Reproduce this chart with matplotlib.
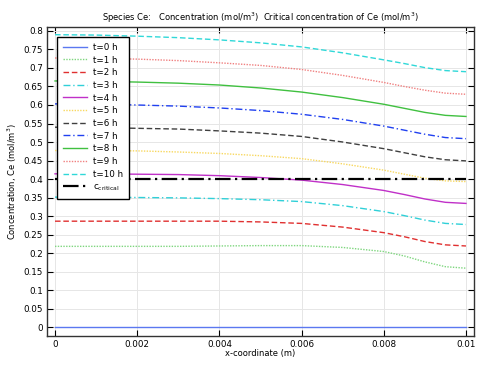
import matplotlib
matplotlib.use("Agg")
import matplotlib.pyplot as plt

x = [0, 0.001, 0.002, 0.003, 0.004, 0.005, 0.006, 0.007, 0.008, 0.0085, 0.009, 0.0095, 0.01]
t0 = [0.0] * 13
t1 = [0.218, 0.218, 0.218, 0.218, 0.219, 0.220, 0.220, 0.215, 0.204, 0.192, 0.176, 0.163, 0.159]
t2 = [0.286, 0.286, 0.286, 0.286, 0.286, 0.284, 0.280, 0.270, 0.255, 0.244, 0.231, 0.222, 0.219]
t3 = [0.351, 0.351, 0.350, 0.349, 0.347, 0.344, 0.339, 0.328, 0.312, 0.301, 0.289, 0.280, 0.277]
t4 = [0.414, 0.414, 0.413, 0.412, 0.409, 0.404, 0.397, 0.385, 0.369, 0.358, 0.346, 0.337, 0.334]
t5 = [0.477, 0.477, 0.476, 0.473, 0.469, 0.463, 0.455, 0.441, 0.424, 0.413, 0.402, 0.395, 0.393]
t6 = [0.540, 0.539, 0.537, 0.535, 0.530, 0.524, 0.515, 0.500, 0.482, 0.471, 0.460, 0.452, 0.449]
t7 = [0.603, 0.602, 0.600, 0.597, 0.592, 0.585, 0.575, 0.561, 0.543, 0.532, 0.521, 0.512, 0.509]
t8 = [0.665, 0.664, 0.662, 0.659, 0.654, 0.646, 0.635, 0.620, 0.602, 0.591, 0.580, 0.572, 0.569]
t9 = [0.727, 0.726, 0.724, 0.720, 0.714, 0.707, 0.696, 0.680, 0.661, 0.650, 0.640, 0.632, 0.629]
t10 = [0.790, 0.789, 0.786, 0.782, 0.776, 0.768, 0.757, 0.741, 0.722, 0.712, 0.701, 0.693, 0.690]
c_critical = 0.4
x_crit = [0, 0.01]

labels = ["t=0 h", "t=1 h", "t=2 h", "t=3 h", "t=4 h", "t=5 h", "t=6 h",
          "t=7 h", "t=8 h", "t=9 h", "t=10 h"]
series = [t0, t1, t2, t3, t4, t5, t6, t7, t8, t9, t10]
colors = ["#5b78f0", "#7fd67f", "#e03030", "#30d0d8", "#c030c8", "#f8d860",
          "#404040", "#2040f0", "#40c040", "#f08080", "#30d8d8"]
styles = ["-", (0, (1, 1)), (0, (4, 2)), (0, (5, 2, 1, 2)), "-", (0, (1, 1)),
          (0, (4, 2)), (0, (5, 2, 1, 2)), "-", (0, (1, 1)), (0, (4, 2))]

fig = plt.figure(figsize=(4.81, 3.75), dpi=100)
ax = fig.add_axes([0.0977, 0.104, 0.8877, 0.824])

for y, lab, c, ls in zip(series, labels, colors, styles):
    ax.plot(x, y, color=c, linestyle=ls, linewidth=1.0, label=lab)
ax.plot(x_crit, [c_critical, c_critical], color="black", linestyle=(0, (7, 2, 1, 2)),
        linewidth=1.6, label="c$_{\\mathregular{critical}}$")

ax.set_xlim(-0.000195, 0.010195)
ax.set_ylim(-0.0243, 0.8108)
ax.set_xticks([0, 0.002, 0.004, 0.006, 0.008, 0.01])
ax.set_xticklabels(["0", "0.002", "0.004", "0.006", "0.008", "0.01"])
yt = [i * 0.05 for i in range(17)]
ax.set_yticks(yt)
ax.set_yticklabels(["0", "0.05", "0.1", "0.15", "0.2", "0.25", "0.3", "0.35", "0.4",
                    "0.45", "0.5", "0.55", "0.6", "0.65", "0.7", "0.75", "0.8"])
ax.tick_params(direction="in", top=True, right=True, labelsize=6.3, length=4, width=0.8, pad=3)
ax.grid(True, color="#e6e6e6", linewidth=0.7)
ax.set_axisbelow(True)
for s in ax.spines.values():
    s.set_linewidth(1.0)
    s.set_color("#333333")

ax.set_xlabel("x-coordinate (m)", fontsize=6, labelpad=0)
ax.set_ylabel("Concentration, Ce (mol/m$^{\\mathregular{3}}$)", fontsize=6, labelpad=3)
ax.set_title("Species Ce:   Concentration (mol/m$^{\\mathregular{3}}$)  Critical concentration of Ce (mol/m$^{\\mathregular{3}}$)",
             fontsize=6, pad=4)

leg = ax.legend(loc="upper left", bbox_to_anchor=(0.0227, 0.9686), borderaxespad=0,
                fontsize=6.3, frameon=True, fancybox=False, edgecolor="black",
                handlelength=2.8, handletextpad=0.6, labelspacing=0.42, borderpad=0.7)
leg.get_frame().set_linewidth(1.0)
leg.get_frame().set_alpha(1)

fig.savefig("out.png", dpi=100)
